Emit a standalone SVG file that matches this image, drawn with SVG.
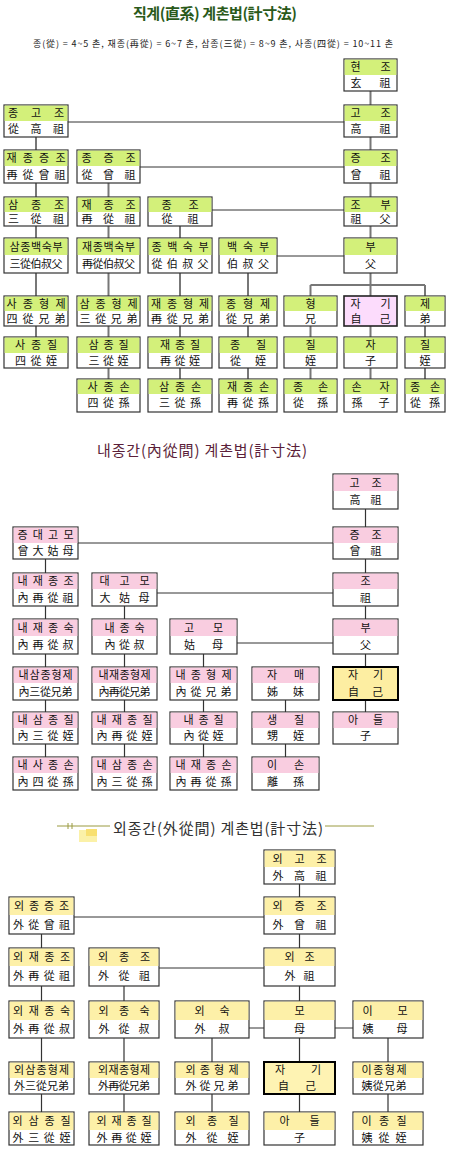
<svg xmlns="http://www.w3.org/2000/svg" width="450" height="1156" viewBox="0 0 450 1156">
<style>
.bg{fill:#fff}
.b{fill:#fff;stroke:#333;stroke-width:1.2}
.h1{fill:#d3f07a}
.h2{fill:#f9cde0}
.h3{fill:#fdf0a8}
.me1{fill:#fcdcfc;stroke:#222;stroke-width:1.6}
.me2{fill:#fdeea2;stroke:#000;stroke-width:2}
.me3{fill:#fef3b3;stroke:#000;stroke-width:2}
.t{font-family:"Noto Sans CJK KR","Noto Sans",sans-serif;font-size:11px;fill:#111;text-anchor:middle}
.cv{stroke:#777;stroke-width:2;fill:none}
.cv2{stroke:#333;stroke-width:1.2;fill:none}
.ch{stroke:#333;stroke-width:1;fill:none}
.title{font-family:"Noto Sans CJK KR","Noto Sans",sans-serif;text-anchor:middle}
</style>
<rect class="bg" x="0" y="0" width="450" height="1156"/>

<!-- Titles -->
<g id="title1">
<text class="title" x="215" y="19" font-size="15" font-weight="bold" fill="#2a5a1a" textLength="164">직계(直系) 계촌법(計寸法)</text>
<text class="title" x="213" y="47" font-size="9" fill="#222" textLength="360">종(從) =  4~5 촌,  재종(再從) =  6~7 촌,  삼종(三從) =  8~9 촌,  사종(四從) = 10~11 촌</text>
</g>
<g id="title2">
<text class="title" x="202" y="456" font-size="15" fill="#5b1f3a" textLength="210">내종간(內從間) 계촌법(計寸法)</text>
</g>
<g id="title3">
<line x1="57" y1="826" x2="110" y2="826" stroke="#9a9a40" stroke-width="1"/>
<line x1="68" y1="823" x2="68" y2="829" stroke="#9a9a40" stroke-width="1"/>
<line x1="72" y1="823" x2="72" y2="829" stroke="#9a9a40" stroke-width="1"/>
<rect x="79" y="830" width="18" height="12" fill="#fbf1a8"/>
<rect x="86" y="829" width="11" height="7" fill="#f8e070"/>
<text class="title" x="218" y="834" font-size="15" fill="#333" textLength="210">외종간(外從間) 계촌법(計寸法)</text>
<line x1="325" y1="826" x2="374" y2="826" stroke="#9a9a40" stroke-width="1"/>
</g>

<!-- Connectors -->
<g id="connectors">
<!-- section 1 -->
<line class="cv" x1="370.5" y1="91" x2="370.5" y2="379"/>
<line class="cv" x1="36" y1="137" x2="36" y2="337"/>
<line class="cv" x1="108.5" y1="183" x2="108.5" y2="379"/>
<line class="cv" x1="180" y1="226" x2="180" y2="379"/>
<line class="cv" x1="248" y1="273" x2="248" y2="379"/>
<line class="cv" x1="310.5" y1="285" x2="310.5" y2="379"/>
<line class="cv" x1="425" y1="285" x2="425" y2="379"/>
<line class="cv" x1="310.5" y1="285" x2="425" y2="285"/>
<line class="ch" x1="68" y1="122" x2="344" y2="122"/>
<line class="ch" x1="140" y1="167" x2="344" y2="167"/>
<line class="ch" x1="212" y1="210" x2="344" y2="210"/>
<line class="ch" x1="277" y1="256" x2="344" y2="256"/>
<!-- section 2 -->
<line class="cv2" x1="365.5" y1="509" x2="365.5" y2="712"/>
<line class="cv2" x1="45.5" y1="559" x2="45.5" y2="757"/>
<line class="cv2" x1="124.5" y1="606" x2="124.5" y2="757"/>
<line class="cv2" x1="203.5" y1="654" x2="203.5" y2="757"/>
<line class="cv2" x1="285.5" y1="700" x2="285.5" y2="757"/>
<line class="ch" x1="78" y1="543" x2="333" y2="543"/>
<line class="ch" x1="157" y1="593" x2="333" y2="593"/>
<line class="ch" x1="237" y1="643" x2="333" y2="643"/>
<!-- section 3 -->
<line class="cv2" x1="299.5" y1="884" x2="299.5" y2="1112"/>
<line class="cv2" x1="41.5" y1="934" x2="41.5" y2="1112"/>
<line class="cv2" x1="124" y1="986" x2="124" y2="1112"/>
<line class="cv2" x1="212" y1="1038" x2="212" y2="1112"/>
<line class="cv2" x1="388" y1="1038" x2="388" y2="1112"/>
<line class="ch" x1="74" y1="917" x2="264" y2="917"/>
<line class="ch" x1="159" y1="968" x2="264" y2="968"/>
<line class="ch" x1="249" y1="1028" x2="353" y2="1028"/>
</g>

<!-- Section 1 nodes -->
<g id="s1-hyeonjo"><rect class="b" x="344" y="59" width="53" height="32"/><rect class="h1" x="344.6" y="59.6" width="51.8" height="15.4"/><text class="t" x="370.5" y="71" textLength="40">현조</text><text class="t" x="370.5" y="87" textLength="40">玄祖</text></g>
<g id="s1-jonggojo"><rect class="b" x="4" y="105" width="64" height="32"/><rect class="h1" x="4.6" y="105.6" width="62.8" height="15.4"/><text class="t" x="36" y="117" textLength="56">종고조</text><text class="t" x="36" y="133" textLength="56">從高祖</text></g>
<g id="s1-gojo"><rect class="b" x="344" y="105" width="53" height="32"/><rect class="h1" x="344.6" y="105.6" width="51.8" height="15.4"/><text class="t" x="370.5" y="117" textLength="40">고조</text><text class="t" x="370.5" y="133" textLength="40">高祖</text></g>
<g id="s1-jaejongjeungjo"><rect class="b" x="4" y="150" width="64" height="33"/><rect class="h1" x="4.6" y="150.6" width="62.8" height="15.4"/><text class="t" x="36" y="162" textLength="59">재종증조</text><text class="t" x="36" y="178.5" textLength="59">再從曾祖</text></g>
<g id="s1-jongjeungjo"><rect class="b" x="77" y="150" width="63" height="33"/><rect class="h1" x="77.6" y="150.6" width="61.8" height="15.4"/><text class="t" x="108.5" y="162" textLength="54">종증조</text><text class="t" x="108.5" y="178.5" textLength="54">從曾祖</text></g>
<g id="s1-jeungjo"><rect class="b" x="344" y="150" width="53" height="33"/><rect class="h1" x="344.6" y="150.6" width="51.8" height="15.4"/><text class="t" x="370.5" y="162" textLength="40">증조</text><text class="t" x="370.5" y="178.5" textLength="40">曾祖</text></g>
<g id="s1-samjongjo"><rect class="b" x="4" y="197" width="64" height="29"/><rect class="h1" x="4.6" y="197.6" width="62.8" height="14.4"/><text class="t" x="36" y="208.5" textLength="56">삼종조</text><text class="t" x="36" y="223" textLength="56">三從祖</text></g>
<g id="s1-jaejongjo"><rect class="b" x="77" y="197" width="63" height="29"/><rect class="h1" x="77.6" y="197.6" width="61.8" height="14.4"/><text class="t" x="108.5" y="208.5" textLength="54">재종조</text><text class="t" x="108.5" y="223" textLength="54">再從祖</text></g>
<g id="s1-jongjo"><rect class="b" x="148" y="197" width="64" height="29"/><rect class="h1" x="148.6" y="197.6" width="62.8" height="14.4"/><text class="t" x="180" y="208.5" textLength="37">종조</text><text class="t" x="180" y="223" textLength="37">從祖</text></g>
<g id="s1-jobu"><rect class="b" x="344" y="197" width="53" height="29"/><rect class="h1" x="344.6" y="197.6" width="51.8" height="14.4"/><text class="t" x="370.5" y="208.5" textLength="40">조부</text><text class="t" x="370.5" y="223" textLength="40">祖父</text></g>
<g id="s1-samjongbaeksukbu"><rect class="b" x="4" y="238" width="64" height="35"/><rect class="h1" x="4.6" y="238.6" width="62.8" height="16.4"/><text class="t" x="36" y="250.5" textLength="53">삼종백숙부</text><text class="t" x="36" y="268" textLength="53">三從伯叔父</text></g>
<g id="s1-jaejongbaeksukbu"><rect class="b" x="77" y="238" width="63" height="35"/><rect class="h1" x="77.6" y="238.6" width="61.8" height="16.4"/><text class="t" x="108.5" y="250.5" textLength="53">재종백숙부</text><text class="t" x="108.5" y="268" textLength="53">再從伯叔父</text></g>
<g id="s1-jongbaeksukbu"><rect class="b" x="148" y="238" width="64" height="35"/><rect class="h1" x="148.6" y="238.6" width="62.8" height="16.4"/><text class="t" x="180" y="250.5" textLength="57">종백숙부</text><text class="t" x="180" y="268" textLength="57">從伯叔父</text></g>
<g id="s1-baeksukbu"><rect class="b" x="219" y="238" width="58" height="35"/><rect class="h1" x="219.6" y="238.6" width="56.8" height="16.4"/><text class="t" x="248" y="250.5" textLength="42">백숙부</text><text class="t" x="248" y="268" textLength="42">伯叔父</text></g>
<g id="s1-bu"><rect class="b" x="344" y="238" width="53" height="35"/><rect class="h1" x="344.6" y="238.6" width="51.8" height="16.4"/><text class="t" x="370.5" y="250.5">부</text><text class="t" x="370.5" y="268">父</text></g>
<g id="s1-sajonghyeongje"><rect class="b" x="4" y="296" width="64" height="30"/><rect class="h1" x="4.6" y="296.6" width="62.8" height="14.4"/><text class="t" x="36" y="307.5" textLength="59">사종형제</text><text class="t" x="36" y="322.5" textLength="59">四從兄弟</text></g>
<g id="s1-samjonghyeongje"><rect class="b" x="77" y="296" width="63" height="30"/><rect class="h1" x="77.6" y="296.6" width="61.8" height="14.4"/><text class="t" x="108.5" y="307.5" textLength="58">삼종형제</text><text class="t" x="108.5" y="322.5" textLength="58">三從兄弟</text></g>
<g id="s1-jaejonghyeongje"><rect class="b" x="148" y="296" width="64" height="30"/><rect class="h1" x="148.6" y="296.6" width="62.8" height="14.4"/><text class="t" x="180" y="307.5" textLength="58">재종형제</text><text class="t" x="180" y="322.5" textLength="58">再從兄弟</text></g>
<g id="s1-jonghyeongje"><rect class="b" x="219" y="296" width="58" height="30"/><rect class="h1" x="219.6" y="296.6" width="56.8" height="14.4"/><text class="t" x="248" y="307.5" textLength="44">종형제</text><text class="t" x="248" y="322.5" textLength="44">從兄弟</text></g>
<g id="s1-hyeong"><rect class="b" x="284" y="296" width="53" height="30"/><rect class="h1" x="284.6" y="296.6" width="51.8" height="14.4"/><text class="t" x="310.5" y="307.5">형</text><text class="t" x="310.5" y="322.5">兄</text></g>
<g id="s1-jagi"><rect class="me1" x="344" y="296" width="53" height="30"/><text class="t" x="370.5" y="307.5" textLength="40">자기</text><text class="t" x="370.5" y="322.5" textLength="40">自己</text></g>
<g id="s1-je"><rect class="b" x="405" y="296" width="40" height="30"/><rect class="h1" x="405.6" y="296.6" width="38.8" height="14.4"/><text class="t" x="425" y="307.5">제</text><text class="t" x="425" y="322.5">弟</text></g>
<g id="s1-sajongjil"><rect class="b" x="4" y="337" width="64" height="31"/><rect class="h1" x="4.6" y="337.6" width="62.8" height="15.4"/><text class="t" x="36" y="349" textLength="42">사종질</text><text class="t" x="36" y="364.5" textLength="42">四從姪</text></g>
<g id="s1-samjongjil"><rect class="b" x="77" y="337" width="63" height="31"/><rect class="h1" x="77.6" y="337.6" width="61.8" height="15.4"/><text class="t" x="108.5" y="349" textLength="40">삼종질</text><text class="t" x="108.5" y="364.5" textLength="40">三從姪</text></g>
<g id="s1-jaejongjil"><rect class="b" x="148" y="337" width="64" height="31"/><rect class="h1" x="148.6" y="337.6" width="62.8" height="15.4"/><text class="t" x="180" y="349" textLength="40">재종질</text><text class="t" x="180" y="364.5" textLength="40">再從姪</text></g>
<g id="s1-jongjil"><rect class="b" x="219" y="337" width="58" height="31"/><rect class="h1" x="219.6" y="337.6" width="56.8" height="15.4"/><text class="t" x="248" y="349" textLength="36">종질</text><text class="t" x="248" y="364.5" textLength="36">從姪</text></g>
<g id="s1-jil1"><rect class="b" x="284" y="337" width="53" height="31"/><rect class="h1" x="284.6" y="337.6" width="51.8" height="15.4"/><text class="t" x="310.5" y="349">질</text><text class="t" x="310.5" y="364.5">姪</text></g>
<g id="s1-ja"><rect class="b" x="344" y="337" width="53" height="31"/><rect class="h1" x="344.6" y="337.6" width="51.8" height="15.4"/><text class="t" x="370.5" y="349">자</text><text class="t" x="370.5" y="364.5">子</text></g>
<g id="s1-jil2"><rect class="b" x="405" y="337" width="40" height="31"/><rect class="h1" x="405.6" y="337.6" width="38.8" height="15.4"/><text class="t" x="425" y="349">질</text><text class="t" x="425" y="364.5">姪</text></g>
<g id="s1-sajongson"><rect class="b" x="77" y="379" width="63" height="33"/><rect class="h1" x="77.6" y="379.6" width="61.8" height="14.4"/><text class="t" x="108.5" y="390.5" textLength="42">사종손</text><text class="t" x="108.5" y="407" textLength="42">四從孫</text></g>
<g id="s1-samjongson"><rect class="b" x="148" y="379" width="64" height="33"/><rect class="h1" x="148.6" y="379.6" width="62.8" height="14.4"/><text class="t" x="180" y="390.5" textLength="42">삼종손</text><text class="t" x="180" y="407" textLength="42">三從孫</text></g>
<g id="s1-jaejongson"><rect class="b" x="219" y="379" width="58" height="33"/><rect class="h1" x="219.6" y="379.6" width="56.8" height="14.4"/><text class="t" x="248" y="390.5" textLength="42">재종손</text><text class="t" x="248" y="407" textLength="42">再從孫</text></g>
<g id="s1-jongson1"><rect class="b" x="284" y="379" width="53" height="33"/><rect class="h1" x="284.6" y="379.6" width="51.8" height="14.4"/><text class="t" x="310.5" y="390.5" textLength="35">종손</text><text class="t" x="310.5" y="407" textLength="35">從孫</text></g>
<g id="s1-sonja"><rect class="b" x="344" y="379" width="53" height="33"/><rect class="h1" x="344.6" y="379.6" width="51.8" height="14.4"/><text class="t" x="370.5" y="390.5" textLength="38">손자</text><text class="t" x="370.5" y="407" textLength="38">孫子</text></g>
<g id="s1-jongson2"><rect class="b" x="405" y="379" width="40" height="33"/><rect class="h1" x="405.6" y="379.6" width="38.8" height="14.4"/><text class="t" x="425" y="390.5" textLength="30">종손</text><text class="t" x="425" y="407" textLength="30">從孫</text></g>

<!-- Section 2 nodes -->
<g id="s2-gojo"><rect class="b" x="333" y="474" width="65" height="35"/><rect class="h2" x="333.6" y="474.6" width="63.8" height="16.4"/><text class="t" x="365.5" y="486.5" textLength="32">고조</text><text class="t" x="365.5" y="504" textLength="32">高祖</text></g>
<g id="s2-jeungdaegomo"><rect class="b" x="13" y="527" width="65" height="32"/><rect class="h2" x="13.6" y="527.6" width="63.8" height="15.4"/><text class="t" x="45.5" y="539" textLength="56">증대고모</text><text class="t" x="45.5" y="555" textLength="56">曾大姑母</text></g>
<g id="s2-jeungjo"><rect class="b" x="333" y="527" width="65" height="32"/><rect class="h2" x="333.6" y="527.6" width="63.8" height="15.4"/><text class="t" x="365.5" y="539" textLength="32">증조</text><text class="t" x="365.5" y="555" textLength="32">曾祖</text></g>
<g id="s2-naejaejongjo"><rect class="b" x="13" y="573" width="65" height="33"/><rect class="h2" x="13.6" y="573.6" width="63.8" height="15.4"/><text class="t" x="45.5" y="585" textLength="56">내재종조</text><text class="t" x="45.5" y="601.5" textLength="56">內再從祖</text></g>
<g id="s2-daegomo"><rect class="b" x="92" y="573" width="65" height="33"/><rect class="h2" x="92.6" y="573.6" width="63.8" height="15.4"/><text class="t" x="124.5" y="585" textLength="50">대고모</text><text class="t" x="124.5" y="601.5" textLength="50">大姑母</text></g>
<g id="s2-jo"><rect class="b" x="333" y="573" width="65" height="33"/><rect class="h2" x="333.6" y="573.6" width="63.8" height="15.4"/><text class="t" x="365.5" y="585">조</text><text class="t" x="365.5" y="601.5">祖</text></g>
<g id="s2-naejaejongsuk"><rect class="b" x="13" y="619" width="65" height="35"/><rect class="h2" x="13.6" y="619.6" width="63.8" height="16.4"/><text class="t" x="45.5" y="631.5" textLength="56">내재종숙</text><text class="t" x="45.5" y="649" textLength="56">內再從叔</text></g>
<g id="s2-naejongsuk"><rect class="b" x="92" y="619" width="65" height="35"/><rect class="h2" x="92.6" y="619.6" width="63.8" height="16.4"/><text class="t" x="124.5" y="631.5" textLength="40">내종숙</text><text class="t" x="124.5" y="649" textLength="40">內從叔</text></g>
<g id="s2-gomo"><rect class="b" x="170" y="619" width="67" height="35"/><rect class="h2" x="170.6" y="619.6" width="65.8" height="16.4"/><text class="t" x="203.5" y="631.5" textLength="39">고모</text><text class="t" x="203.5" y="649" textLength="39">姑母</text></g>
<g id="s2-bu"><rect class="b" x="333" y="619" width="65" height="35"/><rect class="h2" x="333.6" y="619.6" width="63.8" height="16.4"/><text class="t" x="365.5" y="631.5">부</text><text class="t" x="365.5" y="649">父</text></g>
<g id="s2-naesamjonghyeongje"><rect class="b" x="13" y="667" width="65" height="33"/><rect class="h2" x="13.6" y="667.6" width="63.8" height="15.4"/><text class="t" x="45.5" y="679" textLength="54">내삼종형제</text><text class="t" x="45.5" y="695.5" textLength="54">內三從兄弟</text></g>
<g id="s2-naejaejonghyeongje"><rect class="b" x="92" y="667" width="65" height="33"/><rect class="h2" x="92.6" y="667.6" width="63.8" height="15.4"/><text class="t" x="124.5" y="679" textLength="52">내재종형제</text><text class="t" x="124.5" y="695.5" textLength="52">內再從兄弟</text></g>
<g id="s2-naejonghyeongje"><rect class="b" x="170" y="667" width="67" height="33"/><rect class="h2" x="170.6" y="667.6" width="65.8" height="15.4"/><text class="t" x="203.5" y="679" textLength="56">내종형제</text><text class="t" x="203.5" y="695.5" textLength="56">內從兄弟</text></g>
<g id="s2-jamae"><rect class="b" x="252" y="667" width="67" height="33"/><rect class="h2" x="252.6" y="667.6" width="65.8" height="15.4"/><text class="t" x="285.5" y="679" textLength="37">자매</text><text class="t" x="285.5" y="695.5" textLength="37">姊妹</text></g>
<g id="s2-jagi"><rect class="me2" x="333" y="667" width="65" height="33"/><text class="t" x="365.5" y="679" textLength="35">자기</text><text class="t" x="365.5" y="695.5" textLength="35">自己</text></g>
<g id="s2-naesamjongjil"><rect class="b" x="13" y="712" width="65" height="32"/><rect class="h2" x="13.6" y="712.6" width="63.8" height="15.4"/><text class="t" x="45.5" y="724" textLength="56">내삼종질</text><text class="t" x="45.5" y="740" textLength="56">內三從姪</text></g>
<g id="s2-naejaejongjil"><rect class="b" x="92" y="712" width="65" height="32"/><rect class="h2" x="92.6" y="712.6" width="63.8" height="15.4"/><text class="t" x="124.5" y="724" textLength="56">내재종질</text><text class="t" x="124.5" y="740" textLength="56">內再從姪</text></g>
<g id="s2-naejongjil"><rect class="b" x="170" y="712" width="67" height="32"/><rect class="h2" x="170.6" y="712.6" width="65.8" height="15.4"/><text class="t" x="203.5" y="724" textLength="40">내종질</text><text class="t" x="203.5" y="740" textLength="40">內從姪</text></g>
<g id="s2-saengjil"><rect class="b" x="252" y="712" width="67" height="32"/><rect class="h2" x="252.6" y="712.6" width="65.8" height="15.4"/><text class="t" x="285.5" y="724" textLength="37">생질</text><text class="t" x="285.5" y="740" textLength="37">甥姪</text></g>
<g id="s2-adeul"><rect class="b" x="333" y="712" width="65" height="32"/><rect class="h2" x="333.6" y="712.6" width="63.8" height="15.4"/><text class="t" x="365.5" y="724" textLength="35">아들</text><text class="t" x="365.5" y="740">子</text></g>
<g id="s2-naesajongson"><rect class="b" x="13" y="757" width="65" height="33"/><rect class="h2" x="13.6" y="757.6" width="63.8" height="15.4"/><text class="t" x="45.5" y="769" textLength="56">내사종손</text><text class="t" x="45.5" y="785.5" textLength="56">內四從孫</text></g>
<g id="s2-naesamjongson"><rect class="b" x="92" y="757" width="65" height="33"/><rect class="h2" x="92.6" y="757.6" width="63.8" height="15.4"/><text class="t" x="124.5" y="769" textLength="56">내삼종손</text><text class="t" x="124.5" y="785.5" textLength="56">內三從孫</text></g>
<g id="s2-naejaejongson"><rect class="b" x="170" y="757" width="67" height="33"/><rect class="h2" x="170.6" y="757.6" width="65.8" height="15.4"/><text class="t" x="203.5" y="769" textLength="56">내재종손</text><text class="t" x="203.5" y="785.5" textLength="56">內再從孫</text></g>
<g id="s2-ison"><rect class="b" x="252" y="757" width="67" height="33"/><rect class="h2" x="252.6" y="757.6" width="65.8" height="15.4"/><text class="t" x="285.5" y="769" textLength="37">이손</text><text class="t" x="285.5" y="785.5" textLength="37">離孫</text></g>

<!-- Section 3 nodes -->
<g id="s3-oegojo"><rect class="b" x="264" y="850" width="71" height="34"/><rect class="h3" x="264.6" y="850.6" width="69.8" height="16.4"/><text class="t" x="299.5" y="862.5" textLength="54">외고조</text><text class="t" x="299.5" y="879.5" textLength="54">外高祖</text></g>
<g id="s3-oejongjeungjo"><rect class="b" x="9" y="897" width="65" height="37"/><rect class="h3" x="9.6" y="897.6" width="63.8" height="17.4"/><text class="t" x="41.5" y="910" textLength="55">외종증조</text><text class="t" x="41.5" y="928.5" textLength="57">外從曾祖</text></g>
<g id="s3-oejeungjo"><rect class="b" x="264" y="897" width="71" height="37"/><rect class="h3" x="264.6" y="897.6" width="69.8" height="17.4"/><text class="t" x="299.5" y="910" textLength="54">외증조</text><text class="t" x="299.5" y="928.5" textLength="54">外曾祖</text></g>
<g id="s3-oejaejongjo"><rect class="b" x="9" y="948" width="65" height="38"/><rect class="h3" x="9.6" y="948.6" width="63.8" height="17.4"/><text class="t" x="41.5" y="961" textLength="57">외재종조</text><text class="t" x="41.5" y="980" textLength="57">外再從祖</text></g>
<g id="s3-oejongjo"><rect class="b" x="89" y="948" width="70" height="38"/><rect class="h3" x="89.6" y="948.6" width="68.8" height="17.4"/><text class="t" x="124" y="961" textLength="52">외종조</text><text class="t" x="124" y="980" textLength="52">外從祖</text></g>
<g id="s3-oejo"><rect class="b" x="264" y="948" width="71" height="38"/><rect class="h3" x="264.6" y="948.6" width="69.8" height="17.4"/><text class="t" x="299.5" y="961" textLength="30">외조</text><text class="t" x="299.5" y="980" textLength="30">外祖</text></g>
<g id="s3-oejaejongsuk"><rect class="b" x="9" y="1001" width="65" height="37"/><rect class="h3" x="9.6" y="1001.6" width="63.8" height="18.4"/><text class="t" x="41.5" y="1014.5" textLength="57">외재종숙</text><text class="t" x="41.5" y="1033" textLength="57">外再從叔</text></g>
<g id="s3-oejongsuk"><rect class="b" x="89" y="1001" width="70" height="37"/><rect class="h3" x="89.6" y="1001.6" width="68.8" height="18.4"/><text class="t" x="124" y="1014.5" textLength="51">외종숙</text><text class="t" x="124" y="1033" textLength="51">外從叔</text></g>
<g id="s3-oesuk"><rect class="b" x="175" y="1001" width="74" height="37"/><rect class="h3" x="175.6" y="1001.6" width="72.8" height="18.4"/><text class="t" x="212" y="1014.5" textLength="35">외숙</text><text class="t" x="212" y="1033" textLength="35">外叔</text></g>
<g id="s3-mo"><rect class="b" x="264" y="1001" width="71" height="37"/><rect class="h3" x="264.6" y="1001.6" width="69.8" height="18.4"/><text class="t" x="299.5" y="1014.5">모</text><text class="t" x="299.5" y="1033">母</text></g>
<g id="s3-imo"><rect class="b" x="353" y="1001" width="70" height="37"/><rect class="h3" x="353.6" y="1001.6" width="68.8" height="18.4"/><text class="t" x="385" y="1014.5" textLength="45">이모</text><text class="t" x="385" y="1033" textLength="45">姨母</text></g>
<g id="s3-oesamjonghyeongje"><rect class="b" x="9" y="1062" width="65" height="32"/><rect class="h3" x="9.6" y="1062.6" width="63.8" height="15.4"/><text class="t" x="41.5" y="1074" textLength="55">외삼종형제</text><text class="t" x="41.5" y="1090" textLength="55">外三從兄弟</text></g>
<g id="s3-oejaejonghyeongje"><rect class="b" x="89" y="1062" width="70" height="32"/><rect class="h3" x="89.6" y="1062.6" width="68.8" height="15.4"/><text class="t" x="124" y="1074" textLength="52">외재종형제</text><text class="t" x="124" y="1090" textLength="52">外再從兄弟</text></g>
<g id="s3-oejonghyeongje"><rect class="b" x="175" y="1062" width="74" height="32"/><rect class="h3" x="175.6" y="1062.6" width="72.8" height="15.4"/><text class="t" x="212" y="1074" textLength="53">외종형제</text><text class="t" x="212" y="1090" textLength="53">外從兄弟</text></g>
<g id="s3-jagi"><rect class="me3" x="264" y="1062" width="71" height="32"/><text class="t" x="298" y="1074" textLength="46">자기</text><text class="t" x="297" y="1090" textLength="38">自己</text></g>
<g id="s3-ijonghyeongje"><rect class="b" x="353" y="1062" width="70" height="32"/><rect class="h3" x="353.6" y="1062.6" width="68.8" height="15.4"/><text class="t" x="384" y="1074" textLength="45">이종형제</text><text class="t" x="384" y="1090" textLength="45">姨從兄弟</text></g>
<g id="s3-oesamjongjil"><rect class="b" x="9" y="1112" width="65" height="33"/><rect class="h3" x="9.6" y="1112.6" width="63.8" height="17.4"/><text class="t" x="41.5" y="1125" textLength="58">외삼종질</text><text class="t" x="41.5" y="1141.5" textLength="58">外三從姪</text></g>
<g id="s3-oejaejongjil"><rect class="b" x="89" y="1112" width="70" height="33"/><rect class="h3" x="89.6" y="1112.6" width="68.8" height="17.4"/><text class="t" x="124" y="1125" textLength="55">외재종질</text><text class="t" x="124" y="1141.5" textLength="55">外再從姪</text></g>
<g id="s3-oejongjil"><rect class="b" x="175" y="1112" width="74" height="33"/><rect class="h3" x="175.6" y="1112.6" width="72.8" height="17.4"/><text class="t" x="212" y="1125" textLength="53">외종질</text><text class="t" x="212" y="1141.5" textLength="53">外從姪</text></g>
<g id="s3-adeul"><rect class="b" x="264" y="1112" width="71" height="33"/><rect class="h3" x="264.6" y="1112.6" width="69.8" height="17.4"/><text class="t" x="299.5" y="1125" textLength="40">아들</text><text class="t" x="299.5" y="1141.5">子</text></g>
<g id="s3-ijongjil"><rect class="b" x="353" y="1112" width="70" height="33"/><rect class="h3" x="353.6" y="1112.6" width="68.8" height="17.4"/><text class="t" x="384" y="1125" textLength="45">이종질</text><text class="t" x="384" y="1141.5" textLength="45">姨從姪</text></g>
</svg>
